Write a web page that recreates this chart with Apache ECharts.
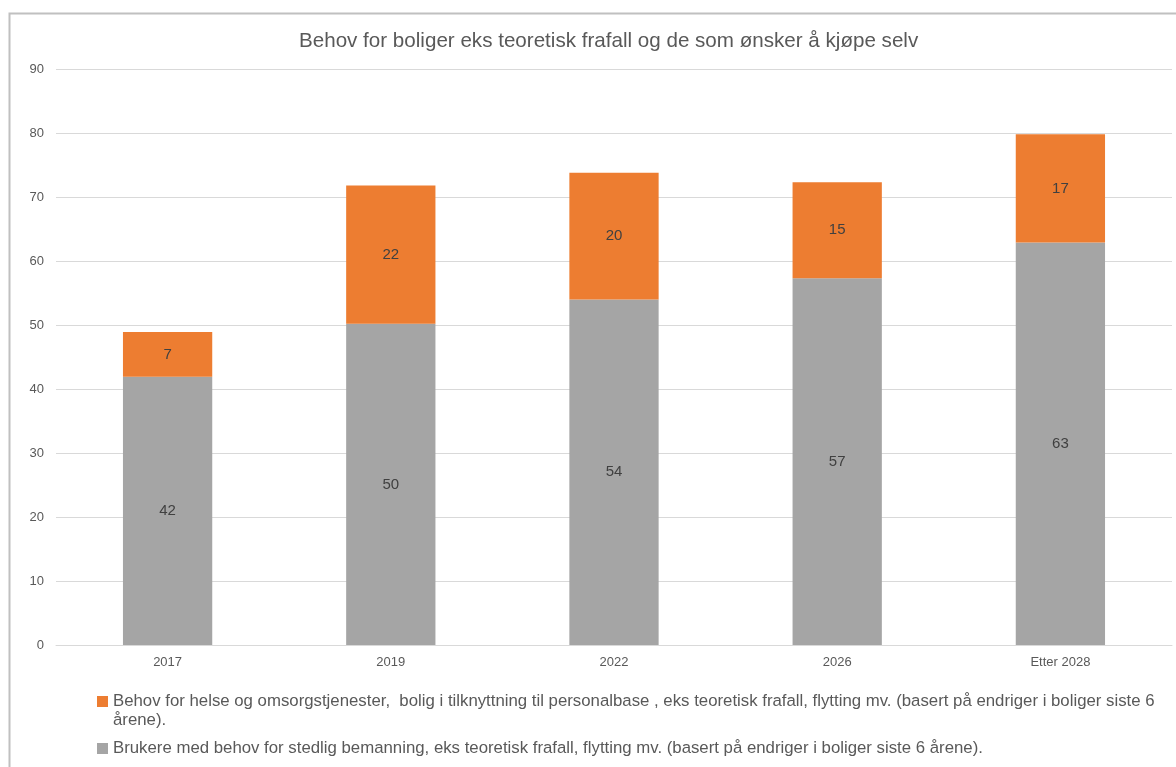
<!DOCTYPE html>
<html>
<head>
<meta charset="utf-8">
<script src="https://cdn.jsdelivr.net/npm/echarts@6/dist/echarts.min.js"></script>
<style>
html,body{margin:0;padding:0;background:#fff;}
#c{width:1176px;height:767px;}
</style>
</head>
<body>
<div id="c"></div>
<script>
const titleText = 'Behov for boliger eks teoretisk frafall og de som ønsker å kjøpe selv';
const categories = ['2017', '2019', '2022', '2026', 'Etter 2028'];
const seriesNames = [
  'Behov for helse og omsorgstjenester,  bolig i tilknyttning til personalbase , eks teoretisk frafall, flytting mv. (basert på endriger i boliger siste 6 årene).',
  'Brukere med behov for stedlig bemanning, eks teoretisk frafall, flytting mv. (basert på endriger i boliger siste 6 årene).'
];
const helseValues = [7.0, 21.6, 19.8, 15.0, 16.9];
const brukereValues = [41.9, 50.2, 54.0, 57.3, 62.9];
const yTicks = {min: 0, max: 90, interval: 10};

const font = 'Liberation Sans';
const chart = echarts.init(document.getElementById('c'), null, {renderer: 'canvas'});
const labelStyle = {
  show: true, position: 'inside', color: '#404040', fontSize: 15, fontFamily: font,
  formatter: p => Math.round(p.value)
};
chart.setOption({
  backgroundColor: '#fff',
  animation: false,
  graphic: [{
    type: 'rect', left: 7, top: 11,
    shape: {width: 1200, height: 800},
    style: {fill: 'none', stroke: '#C0C0C0', lineWidth: 2},
    silent: true, z: -1
  }],
  title: {
    text: titleText, left: 294, top: 26,
    textStyle: {fontSize: 20.6, fontWeight: 'normal', color: '#595959', fontFamily: font}
  },
  grid: {left: 56, right: 4, top: 69, bottom: 122, containLabel: false},
  xAxis: {
    type: 'category', data: categories,
    axisLine: {show: true, lineStyle: {color: '#D9D9D9', width: 1}},
    axisTick: {show: false},
    axisLabel: {color: '#595959', fontSize: 13, fontFamily: font, margin: 11}
  },
  yAxis: {
    type: 'value', min: yTicks.min, max: yTicks.max, interval: yTicks.interval,
    axisLine: {show: false}, axisTick: {show: false},
    axisLabel: {color: '#595959', fontSize: 13, fontFamily: font, margin: 12},
    splitLine: {lineStyle: {color: '#D9D9D9', width: 1}}
  },
  legend: {
    orient: 'vertical', left: 92, top: 668,
    itemWidth: 11, itemHeight: 11, itemGap: 9,
    icon: 'rect',
    data: [seriesNames[0], seriesNames[1]],
    formatter: name => name === seriesNames[0] ? '\n' + name.replace('siste 6 årene).', 'siste 6\nårene).') : name,
    textStyle: {color: '#595959', fontSize: 16.8, fontFamily: font, lineHeight: 19}
  },
  series: [
    {
      name: seriesNames[1], type: 'bar', stack: 's', data: brukereValues,
      barCategoryGap: '60%', itemStyle: {color: '#A5A5A5'}, label: labelStyle
    },
    {
      name: seriesNames[0], type: 'bar', stack: 's', data: helseValues,
      barCategoryGap: '60%', itemStyle: {color: '#ED7D31'}, label: labelStyle
    }
  ]
});
</script>
</body>
</html>
